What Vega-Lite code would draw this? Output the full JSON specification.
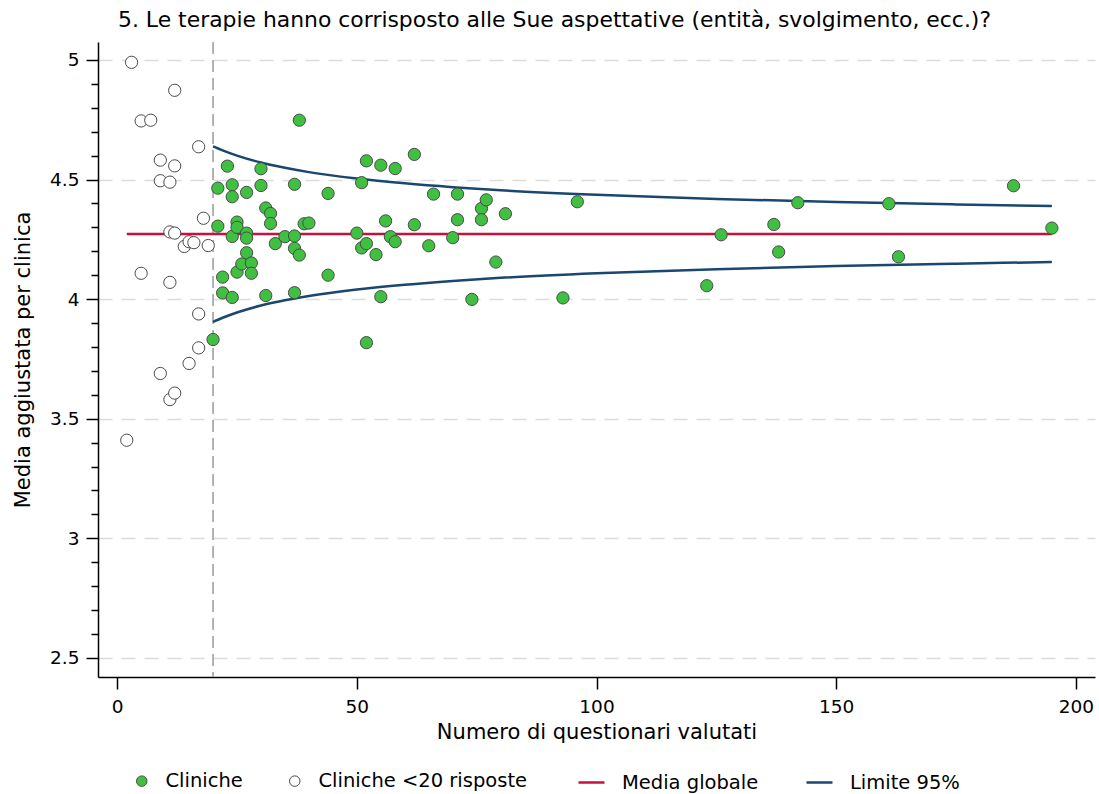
{
  "$schema": "https://vega.github.io/schema/vega-lite/v6.json",
  "autosize": {"type": "none"},
  "width": 997,
  "height": 635,
  "padding": {"left": 98, "top": 42, "right": 4, "bottom": 117},
  "background": "white",
  "config": {
    "view": {"stroke": null},
    "font": "DejaVu Sans",
    "axis": {
      "labelFont": "DejaVu Sans", "labelFontSize": 18.5, "labelColor": "#000000",
      "titleFont": "DejaVu Sans", "titleFontSize": 21, "titleFontWeight": "normal", "titleColor": "#000000",
      "domainColor": "#000000", "domainWidth": 1.5, "tickColor": "#000000", "tickWidth": 1.5,
      "labelOverlap": false
    },
    "legend": {"labelFont": "DejaVu Sans", "labelFontSize": 19.5, "labelColor": "#000000", "labelLimit": 500}
  },
  "title": {
    "text": "5. Le terapie hanno corrisposto alle Sue aspettative (entità, svolgimento, ecc.)?",
    "anchor": "start", "frame": "group", "dx": 20, "offset": 9,
    "font": "DejaVu Sans", "fontSize": 21.9, "fontWeight": "normal", "color": "#000000"
  },
  "datasets": {
    "pts": [
      {"n": 3, "media": 4.99, "serie": "Cliniche <20 risposte"},
      {"n": 12, "media": 4.873, "serie": "Cliniche <20 risposte"},
      {"n": 5, "media": 4.745, "serie": "Cliniche <20 risposte"},
      {"n": 7, "media": 4.748, "serie": "Cliniche <20 risposte"},
      {"n": 17, "media": 4.637, "serie": "Cliniche <20 risposte"},
      {"n": 9, "media": 4.581, "serie": "Cliniche <20 risposte"},
      {"n": 12, "media": 4.557, "serie": "Cliniche <20 risposte"},
      {"n": 9, "media": 4.495, "serie": "Cliniche <20 risposte"},
      {"n": 11, "media": 4.489, "serie": "Cliniche <20 risposte"},
      {"n": 18, "media": 4.338, "serie": "Cliniche <20 risposte"},
      {"n": 11, "media": 4.281, "serie": "Cliniche <20 risposte"},
      {"n": 12, "media": 4.276, "serie": "Cliniche <20 risposte"},
      {"n": 14, "media": 4.22, "serie": "Cliniche <20 risposte"},
      {"n": 15, "media": 4.24, "serie": "Cliniche <20 risposte"},
      {"n": 16, "media": 4.236, "serie": "Cliniche <20 risposte"},
      {"n": 19, "media": 4.224, "serie": "Cliniche <20 risposte"},
      {"n": 5, "media": 4.108, "serie": "Cliniche <20 risposte"},
      {"n": 11, "media": 4.07, "serie": "Cliniche <20 risposte"},
      {"n": 17, "media": 3.938, "serie": "Cliniche <20 risposte"},
      {"n": 17, "media": 3.796, "serie": "Cliniche <20 risposte"},
      {"n": 15, "media": 3.731, "serie": "Cliniche <20 risposte"},
      {"n": 9, "media": 3.689, "serie": "Cliniche <20 risposte"},
      {"n": 11, "media": 3.58, "serie": "Cliniche <20 risposte"},
      {"n": 12, "media": 3.607, "serie": "Cliniche <20 risposte"},
      {"n": 2, "media": 3.41, "serie": "Cliniche <20 risposte"},
      {"n": 20, "media": 3.831, "serie": "Cliniche"},
      {"n": 21, "media": 4.464, "serie": "Cliniche"},
      {"n": 21, "media": 4.305, "serie": "Cliniche"},
      {"n": 22, "media": 4.092, "serie": "Cliniche"},
      {"n": 22, "media": 4.026, "serie": "Cliniche"},
      {"n": 23, "media": 4.556, "serie": "Cliniche"},
      {"n": 24, "media": 4.478, "serie": "Cliniche"},
      {"n": 24, "media": 4.428, "serie": "Cliniche"},
      {"n": 24, "media": 4.262, "serie": "Cliniche"},
      {"n": 24, "media": 4.007, "serie": "Cliniche"},
      {"n": 25, "media": 4.322, "serie": "Cliniche"},
      {"n": 25, "media": 4.3, "serie": "Cliniche"},
      {"n": 25, "media": 4.113, "serie": "Cliniche"},
      {"n": 26, "media": 4.147, "serie": "Cliniche"},
      {"n": 27, "media": 4.446, "serie": "Cliniche"},
      {"n": 27, "media": 4.276, "serie": "Cliniche"},
      {"n": 27, "media": 4.255, "serie": "Cliniche"},
      {"n": 27, "media": 4.194, "serie": "Cliniche"},
      {"n": 28, "media": 4.151, "serie": "Cliniche"},
      {"n": 28, "media": 4.108, "serie": "Cliniche"},
      {"n": 30, "media": 4.545, "serie": "Cliniche"},
      {"n": 30, "media": 4.475, "serie": "Cliniche"},
      {"n": 31, "media": 4.381, "serie": "Cliniche"},
      {"n": 31, "media": 4.015, "serie": "Cliniche"},
      {"n": 32, "media": 4.358, "serie": "Cliniche"},
      {"n": 32, "media": 4.316, "serie": "Cliniche"},
      {"n": 33, "media": 4.232, "serie": "Cliniche"},
      {"n": 35, "media": 4.261, "serie": "Cliniche"},
      {"n": 37, "media": 4.48, "serie": "Cliniche"},
      {"n": 37, "media": 4.264, "serie": "Cliniche"},
      {"n": 37, "media": 4.212, "serie": "Cliniche"},
      {"n": 37, "media": 4.027, "serie": "Cliniche"},
      {"n": 38, "media": 4.748, "serie": "Cliniche"},
      {"n": 38, "media": 4.184, "serie": "Cliniche"},
      {"n": 39, "media": 4.315, "serie": "Cliniche"},
      {"n": 40, "media": 4.318, "serie": "Cliniche"},
      {"n": 44, "media": 4.442, "serie": "Cliniche"},
      {"n": 44, "media": 4.1, "serie": "Cliniche"},
      {"n": 50, "media": 4.276, "serie": "Cliniche"},
      {"n": 51, "media": 4.487, "serie": "Cliniche"},
      {"n": 51, "media": 4.214, "serie": "Cliniche"},
      {"n": 52, "media": 4.578, "serie": "Cliniche"},
      {"n": 52, "media": 4.232, "serie": "Cliniche"},
      {"n": 52, "media": 3.818, "serie": "Cliniche"},
      {"n": 54, "media": 4.186, "serie": "Cliniche"},
      {"n": 55, "media": 4.56, "serie": "Cliniche"},
      {"n": 55, "media": 4.01, "serie": "Cliniche"},
      {"n": 56, "media": 4.327, "serie": "Cliniche"},
      {"n": 57, "media": 4.261, "serie": "Cliniche"},
      {"n": 58, "media": 4.546, "serie": "Cliniche"},
      {"n": 58, "media": 4.24, "serie": "Cliniche"},
      {"n": 62, "media": 4.605, "serie": "Cliniche"},
      {"n": 62, "media": 4.311, "serie": "Cliniche"},
      {"n": 65, "media": 4.223, "serie": "Cliniche"},
      {"n": 66, "media": 4.439, "serie": "Cliniche"},
      {"n": 70, "media": 4.257, "serie": "Cliniche"},
      {"n": 71, "media": 4.439, "serie": "Cliniche"},
      {"n": 71, "media": 4.332, "serie": "Cliniche"},
      {"n": 74, "media": 3.999, "serie": "Cliniche"},
      {"n": 76, "media": 4.379, "serie": "Cliniche"},
      {"n": 76, "media": 4.332, "serie": "Cliniche"},
      {"n": 77, "media": 4.415, "serie": "Cliniche"},
      {"n": 79, "media": 4.155, "serie": "Cliniche"},
      {"n": 81, "media": 4.357, "serie": "Cliniche"},
      {"n": 93, "media": 4.005, "serie": "Cliniche"},
      {"n": 96, "media": 4.407, "serie": "Cliniche"},
      {"n": 123, "media": 4.056, "serie": "Cliniche"},
      {"n": 126, "media": 4.269, "serie": "Cliniche"},
      {"n": 137, "media": 4.312, "serie": "Cliniche"},
      {"n": 138, "media": 4.197, "serie": "Cliniche"},
      {"n": 142, "media": 4.403, "serie": "Cliniche"},
      {"n": 161, "media": 4.399, "serie": "Cliniche"},
      {"n": 163, "media": 4.177, "serie": "Cliniche"},
      {"n": 187, "media": 4.474, "serie": "Cliniche"},
      {"n": 195, "media": 4.297, "serie": "Cliniche"}
    ],
    "soglia": [{"n": 20}],
    "medio": [
      {"n": 2, "media": 4.272, "serie": "Media globale"},
      {"n": 195, "media": 4.272, "serie": "Media globale"}
    ],
    "lim": [
      {"n": 20, "media": 4.639, "lato": "sup", "serie": "Limite 95%"},
      {"n": 22, "media": 4.622, "lato": "sup", "serie": "Limite 95%"},
      {"n": 25, "media": 4.6, "lato": "sup", "serie": "Limite 95%"},
      {"n": 30, "media": 4.571, "lato": "sup", "serie": "Limite 95%"},
      {"n": 35, "media": 4.549, "lato": "sup", "serie": "Limite 95%"},
      {"n": 40, "media": 4.531, "lato": "sup", "serie": "Limite 95%"},
      {"n": 50, "media": 4.504, "lato": "sup", "serie": "Limite 95%"},
      {"n": 60, "media": 4.484, "lato": "sup", "serie": "Limite 95%"},
      {"n": 70, "media": 4.468, "lato": "sup", "serie": "Limite 95%"},
      {"n": 80, "media": 4.455, "lato": "sup", "serie": "Limite 95%"},
      {"n": 100, "media": 4.436, "lato": "sup", "serie": "Limite 95%"},
      {"n": 125, "media": 4.419, "lato": "sup", "serie": "Limite 95%"},
      {"n": 150, "media": 4.406, "lato": "sup", "serie": "Limite 95%"},
      {"n": 175, "media": 4.396, "lato": "sup", "serie": "Limite 95%"},
      {"n": 195, "media": 4.389, "lato": "sup", "serie": "Limite 95%"},
      {"n": 20, "media": 3.905, "lato": "inf", "serie": "Limite 95%"},
      {"n": 22, "media": 3.922, "lato": "inf", "serie": "Limite 95%"},
      {"n": 25, "media": 3.944, "lato": "inf", "serie": "Limite 95%"},
      {"n": 30, "media": 3.973, "lato": "inf", "serie": "Limite 95%"},
      {"n": 35, "media": 3.995, "lato": "inf", "serie": "Limite 95%"},
      {"n": 40, "media": 4.013, "lato": "inf", "serie": "Limite 95%"},
      {"n": 50, "media": 4.04, "lato": "inf", "serie": "Limite 95%"},
      {"n": 60, "media": 4.06, "lato": "inf", "serie": "Limite 95%"},
      {"n": 70, "media": 4.076, "lato": "inf", "serie": "Limite 95%"},
      {"n": 80, "media": 4.089, "lato": "inf", "serie": "Limite 95%"},
      {"n": 100, "media": 4.108, "lato": "inf", "serie": "Limite 95%"},
      {"n": 125, "media": 4.125, "lato": "inf", "serie": "Limite 95%"},
      {"n": 150, "media": 4.138, "lato": "inf", "serie": "Limite 95%"},
      {"n": 175, "media": 4.148, "lato": "inf", "serie": "Limite 95%"},
      {"n": 195, "media": 4.155, "lato": "inf", "serie": "Limite 95%"}
    ]
  },
  "layer": [
    {
      "data": {"name": "pts"},
      "mark": {"type": "point", "opacity": 0},
      "encoding": {
        "x": {
          "field": "n", "type": "quantitative",
          "scale": {"domain": [-4, 204], "nice": false, "zero": false},
          "axis": {
            "title": "Numero di questionari valutati",
            "values": [0, 50, 100, 150, 200], "grid": false,
            "tickSize": 12, "labelPadding": 8, "titlePadding": 6, "labelFlush": false
          }
        },
        "y": {
          "field": "media", "type": "quantitative",
          "scale": {"domain": [2.42, 5.075], "nice": false, "zero": false},
          "axis": {
            "title": "Media aggiustata per clinica",
            "values": [2.5, 2.6, 2.7, 2.8, 2.9, 3, 3.1, 3.2, 3.3, 3.4, 3.5, 3.6, 3.7, 3.8, 3.9, 4, 4.1, 4.2, 4.3, 4.4, 4.5, 4.6, 4.7, 4.8, 4.9, 5],
            "tickCount": 200,
            "labelExpr": "abs(datum.value*2 - round(datum.value*2)) < 0.000001 ? format(datum.value, '~g') : ''",
            "tickSize": {"condition": {"test": "abs(datum.value*2 - round(datum.value*2)) < 0.000001", "value": 12}, "value": 7},
            "grid": true,
            "gridColor": "#dcdcdc", "gridWidth": 1.5, "gridDash": [14, 9],
            "gridOpacity": {"condition": {"test": "abs(datum.value*2 - round(datum.value*2)) < 0.000001", "value": 1}, "value": 0},
            "labelPadding": 7, "titlePadding": 16, "labelFlush": false, "labelOverlap": false
          }
        }
      }
    },
    {
      "data": {"name": "soglia"},
      "mark": {"type": "rule", "color": "#a0a0a0", "strokeWidth": 1.6, "strokeDash": [12, 6]},
      "encoding": {"x": {"field": "n", "type": "quantitative"}}
    },
    {
      "data": {"name": "medio"},
      "mark": {"type": "line", "strokeWidth": 2.5},
      "encoding": {
        "x": {"field": "n", "type": "quantitative"},
        "y": {"field": "media", "type": "quantitative"},
        "stroke": {
          "field": "serie", "type": "nominal",
          "scale": {"domain": ["Media globale", "Limite 95%"], "range": ["#c8103c", "#1a476f"]},
          "legend": {
            "title": null, "orient": "none", "direction": "horizontal",
            "legendX": 479, "legendY": 726, "padding": 0,
            "symbolType": "stroke", "symbolSize": 676, "symbolStrokeWidth": 2.5,
            "labelOffset": 16, "columnPadding": 42
          }
        }
      }
    },
    {
      "data": {"name": "lim"},
      "mark": {"type": "line", "strokeWidth": 2.5, "interpolate": "monotone"},
      "encoding": {
        "x": {"field": "n", "type": "quantitative"},
        "y": {"field": "media", "type": "quantitative"},
        "detail": {"field": "lato"},
        "stroke": {
          "field": "serie", "type": "nominal",
          "legend": {
            "title": null, "orient": "none", "direction": "horizontal",
            "legendX": 479, "legendY": 726, "padding": 0,
            "symbolType": "stroke", "symbolSize": 676, "symbolStrokeWidth": 2.5,
            "labelOffset": 16, "columnPadding": 42
          }
        }
      }
    },
    {
      "data": {"name": "pts"},
      "mark": {"type": "point", "filled": true, "size": 150, "stroke": "#4a4a4a", "strokeWidth": 1, "opacity": 1},
      "encoding": {
        "x": {"field": "n", "type": "quantitative"},
        "y": {"field": "media", "type": "quantitative"},
        "fill": {
          "field": "serie", "type": "nominal",
          "scale": {"domain": ["Cliniche", "Cliniche <20 risposte"], "range": ["#40c040", "#ffffff"]},
          "legend": {
            "title": null, "orient": "none", "direction": "horizontal",
            "legendX": 34, "legendY": 729, "padding": 0,
            "symbolType": "circle", "symbolSize": 110,
            "symbolStrokeColor": "#4a4a4a", "symbolStrokeWidth": 1, "symbolOpacity": 1,
            "labelOffset": 14, "columnPadding": 42
          }
        }
      }
    }
  ]
}
